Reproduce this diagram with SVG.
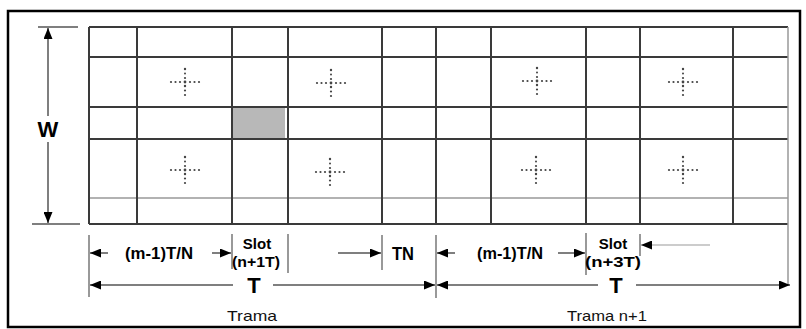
<svg xmlns="http://www.w3.org/2000/svg" xmlns:xlink="http://www.w3.org/1999/xlink" width="806" height="329" viewBox="0 0 806 329">
<style>
.grid{stroke:#3a3a3a;stroke-width:2;fill:none}
.light{stroke:#999;stroke-width:1.5;fill:none}
.dim{stroke:#555;stroke-width:1.5;fill:none}
.tick{stroke:#777;stroke-width:1.5}
.b{font-family:"Liberation Sans",Arial,sans-serif;font-weight:bold;fill:#000}
.r{font-family:"Liberation Sans",Arial,sans-serif;fill:#111}
</style>
<defs>
<marker id="ah" viewBox="0 0 11 9" refX="11" refY="4.5" markerWidth="11" markerHeight="9" markerUnits="userSpaceOnUse" orient="auto">
<path d="M0,0 L11,4.5 L0,9 Z" fill="#000"/>
</marker>
<g id="cross" fill="#444">
<circle cx="0" cy="-13" r="1.2"/><circle cx="0" cy="-8.5" r="1"/><circle cx="0" cy="-4" r="1.1"/><circle cx="0" cy="0" r="1.4"/><circle cx="0" cy="4" r="1.2"/><circle cx="0" cy="8.5" r="1.1"/><circle cx="0" cy="13" r="1.1"/>
<circle cx="-14" cy="0" r="1.1"/><circle cx="-9.5" cy="0" r="1.1"/><circle cx="-5" cy="0" r="1.1"/><circle cx="5" cy="0" r="1.1"/><circle cx="9.5" cy="0" r="1.1"/><circle cx="14" cy="0" r="1.1"/>
</g>
</defs>
<rect width="806" height="329" fill="#fff"/>
<rect x="8" y="11" width="792" height="316" fill="none" stroke="#000" stroke-width="2.5"/>

<g id="grid">
<rect x="232" y="107" width="53" height="32" fill="#b8b8b8"/>
<line class="grid" x1="89" y1="27" x2="788" y2="27"/>
<line class="grid" x1="89" y1="57" x2="788" y2="57"/>
<line class="grid" x1="89" y1="107" x2="788" y2="107"/>
<line class="grid" x1="89" y1="139" x2="788" y2="139"/>
<line class="light" x1="89" y1="198" x2="788" y2="198"/>
<line class="grid" x1="89" y1="224" x2="788" y2="224"/>
<line class="grid" x1="89" y1="27" x2="89" y2="224"/>
<line class="grid" x1="137" y1="27" x2="137" y2="224"/>
<line class="grid" x1="232" y1="27" x2="232" y2="224"/>
<line class="grid" x1="288" y1="27" x2="288" y2="224"/>
<line class="grid" x1="382" y1="27" x2="382" y2="224"/>
<line class="grid" x1="436" y1="27" x2="436" y2="224"/>
<line class="grid" x1="491" y1="27" x2="491" y2="224"/>
<line class="grid" x1="586" y1="27" x2="586" y2="224"/>
<line class="grid" x1="640" y1="27" x2="640" y2="224"/>
<line class="grid" x1="733" y1="27" x2="733" y2="224"/>
<line class="light" x1="788" y1="27" x2="788" y2="285"/>
</g>

<g id="crosses">
<use xlink:href="#cross" x="185" y="82"/>
<use xlink:href="#cross" x="331" y="83"/>
<use xlink:href="#cross" x="537" y="81"/>
<use xlink:href="#cross" x="683" y="82"/>
<use xlink:href="#cross" x="185" y="170"/>
<use xlink:href="#cross" x="330" y="172"/>
<use xlink:href="#cross" x="536" y="170"/>
<use xlink:href="#cross" x="683" y="170"/>
</g>

<g id="w-dimension">
<line class="dim" x1="38" y1="27" x2="78" y2="27"/>
<line class="dim" x1="32" y1="224" x2="80" y2="224"/>
<line class="dim" x1="48" y1="116" x2="48" y2="28" marker-end="url(#ah)"/>
<line class="dim" x1="48" y1="142" x2="48" y2="223" marker-end="url(#ah)"/>
<text class="b" x="48" y="137" font-size="22" text-anchor="middle">W</text>
</g>

<g id="ticks">
<line class="tick" x1="89" y1="235" x2="89" y2="297"/>
<line class="tick" x1="232" y1="234" x2="232" y2="269"/>
<line class="tick" x1="288" y1="234" x2="288" y2="273"/>
<line class="tick" x1="382" y1="235" x2="382" y2="270"/>
<line class="tick" x1="436" y1="235" x2="436" y2="298"/>
<line class="tick" x1="586" y1="233" x2="586" y2="275"/>
<line class="tick" x1="640" y1="234" x2="640" y2="256"/>
</g>

<g id="connectors">
<line class="dim" x1="108" y1="253" x2="90" y2="253" marker-end="url(#ah)"/>
<line class="dim" x1="212" y1="253" x2="231" y2="253" marker-end="url(#ah)"/>
<line class="dim" x1="338" y1="253" x2="381" y2="253" marker-end="url(#ah)"/>
<line class="dim" x1="455" y1="253" x2="437" y2="253" marker-end="url(#ah)"/>
<line class="dim" x1="558" y1="253" x2="585" y2="253" marker-end="url(#ah)"/>
<line x1="710" y1="245" x2="641" y2="245" stroke="#bbb" stroke-width="1.5" marker-end="url(#ah)"/>
<line class="dim" x1="233" y1="285" x2="90" y2="285" marker-end="url(#ah)"/>
<line class="dim" x1="273" y1="285" x2="435" y2="285" marker-end="url(#ah)"/>
<line class="dim" x1="598" y1="285" x2="437" y2="285" marker-end="url(#ah)"/>
<line class="dim" x1="636" y1="285" x2="790" y2="285" marker-end="url(#ah)"/>
</g>

<g id="labels">
<text class="b" x="159" y="259" font-size="16" text-anchor="middle" textLength="68" lengthAdjust="spacingAndGlyphs">(m-1)T/N</text>
<text class="b" x="257" y="249" font-size="15" text-anchor="middle">Slot</text>
<text class="b" x="256" y="267" font-size="14" text-anchor="middle" textLength="48" lengthAdjust="spacingAndGlyphs">(n+1T)</text>
<text class="b" x="403" y="260" font-size="18" text-anchor="middle" textLength="22" lengthAdjust="spacingAndGlyphs">TN</text>
<text class="b" x="510" y="259" font-size="16" text-anchor="middle" textLength="66" lengthAdjust="spacingAndGlyphs">(m-1)T/N</text>
<text class="b" x="613" y="249" font-size="15" text-anchor="middle">Slot</text>
<text class="b" x="613" y="267" font-size="14" text-anchor="middle" textLength="56" lengthAdjust="spacingAndGlyphs">(n+3T)</text>
<text class="b" x="254" y="293" font-size="22" text-anchor="middle">T</text>
<text class="b" x="616" y="293" font-size="22" text-anchor="middle">T</text>
<text class="r" x="252" y="321" font-size="15" text-anchor="middle" textLength="50" lengthAdjust="spacingAndGlyphs">Trama</text>
<text class="r" x="607" y="321" font-size="15" text-anchor="middle" textLength="80" lengthAdjust="spacingAndGlyphs">Trama n+1</text>
</g>
</svg>
